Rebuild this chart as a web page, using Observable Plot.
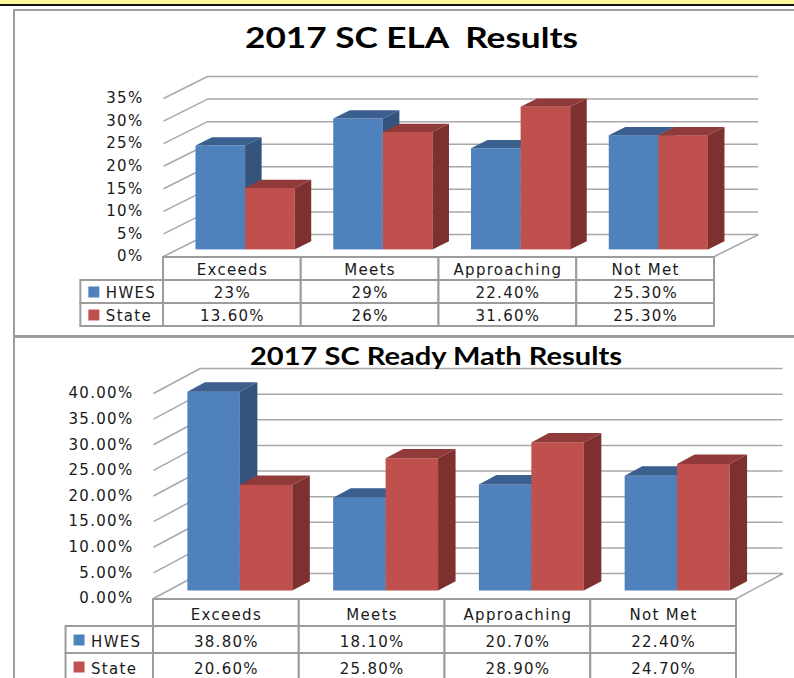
<!DOCTYPE html>
<html>
<head>
<meta charset="utf-8">
<script src="https://cdn.jsdelivr.net/npm/d3@7"></script>
<script src="https://cdn.jsdelivr.net/npm/@observablehq/plot@0.6"></script>
<style>
  body { margin: 0; background: #fff; }
  #page { position: relative; width: 794px; height: 678px; overflow: hidden; background: #fff; }
  #page > div, #page > svg { position: absolute; }
  #page svg { overflow: visible; }
</style>
</head>
<body>
<div id="page">
  <div style="left:0;top:0;width:794px;height:4px;background:#FFFA9C;"></div>
  <div style="left:0;top:4px;width:794px;height:2px;background:#151515;"></div>
  <div style="left:13px;top:9px;width:800px;height:325px;border:2px solid #9c9c9c;border-right:none;"></div>
  <div style="left:13px;top:335px;width:800px;height:400px;border:2px solid #9c9c9c;border-right:none;"></div>
</div>
<script>
// ---------- data ----------
const categories = ["Exceeds", "Meets", "Approaching", "Not Met"];
const series = ["HWES", "State"];
const elaHWES = [23, 29, 22.4, 25.3];
const elaState = [13.6, 26, 31.6, 25.3];
const mathHWES = [38.8, 18.1, 20.7, 22.4];
const mathState = [20.6, 25.8, 28.9, 24.7];
const elaTicks = [0, 5, 10, 15, 20, 25, 30, 35];
const elaTickLabels = ["0%", "5%", "10%", "15%", "20%", "25%", "30%", "35%"];
const mathTicks = [0, 5, 10, 15, 20, 25, 30, 35, 40];
const mathTickLabels = ["0.00%", "5.00%", "10.00%", "15.00%", "20.00%", "25.00%", "30.00%", "35.00%", "40.00%"];
const elaTitle = "2017 SC ELA  Results";
const mathTitle = "2017 SC Ready Math Results";

// ---------- styles ----------
const colors = {
  HWES: {front: "#4F81BD", top: "#3B5F8F", side: "#34547D"},
  State: {front: "#C0504D", top: "#903B39", side: "#7D302E"}
};
const GRID = "#a8a8a8";
const BORDER = "#9c9c9c";
const TEXT = "#1a1a1a";
const FONT = {fontFamily: "'DejaVu Sans', Verdana, sans-serif", fontSize: "15px", letterSpacing: "1.3px", color: TEXT, background: "none", overflow: "visible"};

// 3D projection (in data units): depth vector, bar placement
const DX = 0.32, DY = 4.875, D0 = 0.3, DD = 0.375, BW = 0.36, LEG = -0.6;
const fmtPct = v => Number.isInteger(v) ? v + "%" : v.toFixed(2) + "%";
const page = document.getElementById("page");

function chart3d({hwes, state, ticks, tickLabels, yMax, top, height, mL, mR, mT, mB}) {
  const n = categories.length;
  const bars = [];
  categories.forEach((c, i) => {
    bars.push({series: "HWES", i, v: hwes[i], xl: i + 0.5 - BW, xr: i + 0.5});
    bars.push({series: "State", i, v: state[i], xl: i + 0.5, xr: i + 0.5 + BW});
  });
  const marks = [
    Plot.link(ticks, {x1: 0, y1: d => d, x2: DX, y2: d => d + DY, stroke: GRID, strokeWidth: 1.5}),
    Plot.ruleY(ticks, {y: d => d + DY, x1: DX, x2: n + DX, stroke: GRID, strokeWidth: 1.5}),
    Plot.link([0], {x1: n, y1: 0, x2: n + DX, y2: DY, stroke: GRID, strokeWidth: 1.5}),
    Plot.axisY(ticks, {tickSize: 0, tickPadding: 20, tickFormat: d => tickLabels[ticks.indexOf(d)], fill: TEXT})
  ];
  for (const s of series) {
    const b = bars.filter(d => d.series === s);
    marks.push(Plot.rect(b, {
      x1: d => d.xl + D0 * DX, x2: d => d.xr + D0 * DX,
      y1: D0 * DY, y2: d => d.v + D0 * DY, fill: colors[s].front
    }));
    const topPts = b.flatMap(d => [
      {id: d.i, y: d.v + D0 * DY, x1: d.xl + D0 * DX, x2: d.xr + D0 * DX},
      {id: d.i, y: d.v + (D0 + DD) * DY, x1: d.xl + (D0 + DD) * DX, x2: d.xr + (D0 + DD) * DX}
    ]);
    marks.push(Plot.areaX(topPts, {y: "y", x1: "x1", x2: "x2", z: "id", fill: colors[s].top}));
    const sidePts = b.flatMap(d => [
      {id: d.i, x: d.xr + D0 * DX, y1: D0 * DY, y2: d.v + D0 * DY},
      {id: d.i, x: d.xr + (D0 + DD) * DX, y1: (D0 + DD) * DY, y2: d.v + (D0 + DD) * DY}
    ]);
    marks.push(Plot.areaY(sidePts, {x: "x", y1: "y1", y2: "y2", z: "id", fill: colors[s].side}));
  }
  const svg = Plot.plot({
    width: 794, height, marginLeft: mL, marginRight: mR, marginTop: mT, marginBottom: mB,
    x: {domain: [0, n], axis: null},
    y: {domain: [0, yMax]},
    style: FONT,
    marks
  });
  svg.style.left = "0px"; svg.style.top = top + "px";
  page.appendChild(svg);
}

function table3d({hwes, state, top, rowH, mL, mR, textDy}) {
  const n = categories.length;
  const rows = ["cat", ...series];
  const cells = [];
  categories.forEach((c, i) => {
    cells.push({row: "cat", x1: i, x2: i + 1, text: c});
    cells.push({row: "HWES", x1: i, x2: i + 1, text: fmtPct(hwes[i])});
    cells.push({row: "State", x1: i, x2: i + 1, text: fmtPct(state[i])});
  });
  series.forEach(s => cells.push({row: s, x1: LEG, x2: 0, text: ""}));
  const marks = [
    Plot.barX(cells, {x1: "x1", x2: "x2", y: "row", fill: "white", stroke: BORDER, strokeWidth: 2}),
    Plot.text(cells.filter(d => d.text), {x: d => (d.x1 + d.x2) / 2, y: "row", dy: textDy, text: "text", fill: TEXT})
  ];
  for (const s of series) {
    marks.push(Plot.dot([s], {x: LEG, y: d => d, dx: 13, symbol: "square", r: 6.2, fill: colors[s].front, stroke: null}));
    marks.push(Plot.text([s], {x: LEG, y: d => d, dx: 25, dy: textDy, text: d => d, textAnchor: "start", fill: TEXT}));
  }
  const svg = Plot.plot({
    width: 794, height: 7 + rows.length * rowH + 4, marginLeft: mL, marginRight: mR, marginTop: 7, marginBottom: 4,
    x: {domain: [0, n], axis: null},
    y: {domain: rows, padding: 0, axis: null},
    style: FONT,
    marks
  });
  svg.style.left = "0px"; svg.style.top = top + "px";
  page.appendChild(svg);
}

function title(text, x, y, len, size) {
  const svg = d3.select(page).append("svg")
    .attr("width", 794).attr("height", 60)
    .style("left", "0px").style("top", (y - 45) + "px");
  svg.append("text")
    .attr("x", x).attr("y", 45)
    .attr("textLength", len).attr("lengthAdjust", "spacingAndGlyphs")
    .attr("font-family", "Lato, 'Open Sans', sans-serif").attr("font-weight", "bold")
    .attr("font-size", size).attr("fill", "#000")
    .style("white-space", "pre")
    .text(text);
}

table3d({hwes: elaHWES, state: elaState, top: 250, rowH: 23, mL: 163, mR: 80, textDy: 1});
chart3d({hwes: elaHWES, state: elaState, ticks: elaTicks, tickLabels: elaTickLabels, yMax: 35,
         top: 10, height: 250, mL: 163, mR: 80, mT: 88, mB: 4});
title(elaTitle, 245, 48, 333, 28);

table3d({hwes: mathHWES, state: mathState, top: 592, rowH: 27, mL: 153, mR: 58, textDy: 2});
chart3d({hwes: mathHWES, state: mathState, ticks: mathTicks, tickLabels: mathTickLabels, yMax: 40,
         top: 336, height: 266, mL: 153, mR: 58, mT: 57, mB: 4});
title(mathTitle, 250, 365, 372, 25);
</script>
</body>
</html>
